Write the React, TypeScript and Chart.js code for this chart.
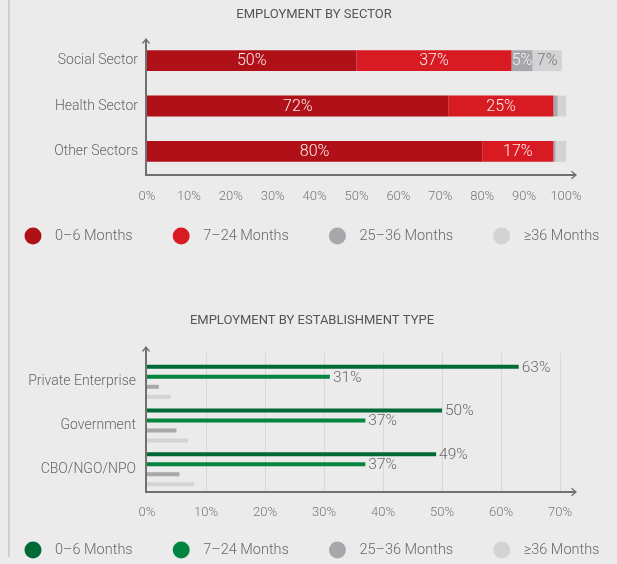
import React, { useEffect, useRef } from 'react';
import { Chart, registerables } from 'chart.js';

Chart.register(...registerables);

const FONT = "Roboto, 'Liberation Sans', sans-serif";

// ---------- data ----------
const seriesNames = ['0–6 Months', '7–24 Months', '25–36 Months', '≥36 Months'];

const sectorCategories = ['Social Sector', 'Health Sector', 'Other Sectors'];
const sector0to6 = [50, 72, 80];
const sector7to24 = [37, 25, 17];
const sector25to36 = [5, 1, 0.5];
const sectorOver36 = [7, 2, 2.5];
const sectorLabels0to6 = ['50%', '72%', '80%'];
const sectorLabels7to24 = ['37%', '25%', '17%'];
const sectorLabels25to36 = ['5%', '', ''];
const sectorLabelsOver36 = ['7%', '', ''];
const sectorTicks = ['0%', '10%', '20%', '30%', '40%', '50%', '60%', '70%', '80%', '90%', '100%'];

const estCategories = ['Private Enterprise', 'Government', 'CBO/NGO/NPO'];
const est0to6 = [63, 50, 49];
const est7to24 = [31, 37, 37];
const est25to36 = [2, 5, 5.5];
const estOver36 = [4, 7, 8];
const estLabels0to6 = ['63%', '50%', '49%'];
const estLabels7to24 = ['31%', '37%', '37%'];
const estTicks = ['0%', '10%', '20%', '30%', '40%', '50%', '60%', '70%'];

const redColors = ['#b01119', '#d81b23', '#a7a8ab', '#d2d3d5'];
const greenColors = ['#006a37', '#00853f', '#a7a8ab', '#d2d3d5'];

// ---------- plugins ----------
type DecorCfg = {
  title: string;
  titleX: number;
  titleY: number;
  arrowTop: number;
  legendY: number;
  grid: boolean;
  gridTop: number;
};

function decorPlugin(cfg: DecorCfg) {
  return {
    id: 'decor',
    beforeDatasetsDraw(chart: any) {
      if (!cfg.grid) return;
      const { ctx, chartArea, scales } = chart;
      const x = scales.x;
      ctx.save();
      ctx.strokeStyle = '#d8d8d8';
      ctx.lineWidth = 1;
      x.ticks.forEach((t: any) => {
        if (t.value === 0) return;
        const px = Math.round(x.getPixelForValue(t.value)) + 0.5;
        ctx.beginPath();
        ctx.moveTo(px, cfg.gridTop);
        ctx.lineTo(px, chartArea.bottom);
        ctx.stroke();
      });
      ctx.restore();
    },
    afterDraw(chart: any) {
      const { ctx, chartArea } = chart;
      ctx.save();
      // title
      ctx.fillStyle = '#555555';
      ctx.font = `400 13px ${FONT}`;
      ctx.textAlign = 'center';
      ctx.textBaseline = 'middle';
      ctx.fillText(cfg.title, cfg.titleX, cfg.titleY);

      // axes with arrows
      const ax = chartArea.left - 1;
      const ay = chartArea.bottom + 1;
      const xEnd = 576;
      ctx.strokeStyle = '#707070';
      ctx.lineWidth = 2;
      ctx.beginPath();
      ctx.moveTo(ax, cfg.arrowTop);
      ctx.lineTo(ax, ay);
      ctx.lineTo(xEnd, ay);
      ctx.stroke();
      ctx.lineWidth = 1.3;
      ctx.beginPath();
      ctx.moveTo(ax - 3.5, cfg.arrowTop + 4.5);
      ctx.lineTo(ax, cfg.arrowTop);
      ctx.lineTo(ax + 3.5, cfg.arrowTop + 4.5);
      ctx.moveTo(xEnd - 4.5, ay - 3.8);
      ctx.lineTo(xEnd, ay);
      ctx.lineTo(xEnd - 4.5, ay + 3.8);
      ctx.stroke();

      // legend
      ctx.font = `300 14.5px ${FONT}`;
      ctx.textAlign = 'left';
      let cx = 33;
      chart.data.datasets.forEach((ds: any) => {
        ctx.fillStyle = ds.backgroundColor;
        ctx.beginPath();
        ctx.arc(cx, cfg.legendY, 8.5, 0, Math.PI * 2);
        ctx.fill();
        ctx.fillStyle = '#686868';
        const tx = cx + 22;
        ctx.fillText(ds.label, tx, cfg.legendY + 0.5);
        cx = tx + ctx.measureText(ds.label).width + 48.5;
      });
      ctx.restore();
    },
  };
}

function insideLabelsPlugin(labels: string[][], colors: string[]) {
  return {
    id: 'insideLabels',
    afterDatasetsDraw(chart: any) {
      const { ctx } = chart;
      ctx.save();
      ctx.font = `300 16px ${FONT}`;
      ctx.textAlign = 'center';
      ctx.textBaseline = 'middle';
      chart.data.datasets.forEach((_ds: any, i: number) => {
        const meta = chart.getDatasetMeta(i);
        meta.data.forEach((el: any, j: number) => {
          const txt = labels[i][j];
          if (!txt) return;
          const p = el.getProps(['x', 'y', 'base'], true);
          ctx.fillStyle = colors[i];
          ctx.fillText(txt, (p.x + p.base) / 2, p.y + 0.5);
        });
      });
      ctx.restore();
    },
  };
}

function endLabelsPlugin(labels: string[][]) {
  return {
    id: 'endLabels',
    afterDatasetsDraw(chart: any) {
      const { ctx } = chart;
      ctx.save();
      ctx.font = `300 15.5px ${FONT}`;
      ctx.textAlign = 'left';
      ctx.textBaseline = 'middle';
      ctx.fillStyle = '#686868';
      chart.data.datasets.forEach((_ds: any, i: number) => {
        if (!labels[i]) return;
        const meta = chart.getDatasetMeta(i);
        meta.data.forEach((el: any, j: number) => {
          const txt = labels[i][j];
          if (!txt) return;
          const p = el.getProps(['x', 'y'], true);
          ctx.fillText(txt, p.x + 3, p.y + 1);
        });
      });
      ctx.restore();
    },
  };
}

const tickFont = { family: FONT, size: 13, weight: 300 as any };
const catFont = { family: FONT, size: 14, weight: 300 as any };

function SectorChart() {
  const ref = useRef<HTMLCanvasElement>(null);
  useEffect(() => {
    if (!ref.current) return;
    const series = [sector0to6, sector7to24, sector25to36, sectorOver36];
    const chart = new Chart(ref.current, {
      type: 'bar',
      data: {
        labels: sectorCategories,
        datasets: series.map((d, i) => ({
          label: seriesNames[i],
          data: d,
          backgroundColor: redColors[i],
          borderWidth: 0,
          barPercentage: 0.46,
          categoryPercentage: 1,
        })),
      },
      options: {
        indexAxis: 'y',
        responsive: false,
        animation: false,
        events: [],
        layout: { padding: { top: 38, left: 0, right: 51, bottom: 48 } },
        scales: {
          x: {
            stacked: true,
            min: 0,
            max: 100,
            ticks: {
              stepSize: 10,
              font: tickFont,
              color: '#777777',
              padding: 15,
              callback: (_v: any, i: number) => sectorTicks[i],
            },
            grid: { display: false, drawTicks: false },
            border: { display: false },
            afterFit: (s: any) => { s.height = 40; },
          },
          y: {
            stacked: true,
            ticks: { font: catFont, color: '#666666', padding: 9 },
            grid: { display: false, drawTicks: false },
            border: { display: false },
            afterFit: (s: any) => { s.width = 147; },
          },
        },
        plugins: {
          legend: { display: false },
          title: { display: false },
          tooltip: { enabled: false },
        },
      } as any,
      plugins: [
        decorPlugin({
          title: 'EMPLOYMENT BY SECTOR',
          titleX: 314,
          titleY: 15,
          arrowTop: 39,
          legendY: 236,
          grid: false,
          gridTop: 0,
        }),
        insideLabelsPlugin(
          [sectorLabels0to6, sectorLabels7to24, sectorLabels25to36, sectorLabelsOver36],
          ['#fbeeee', '#fbeeee', '#f3f3f3', '#777777']
        ),
      ],
    });
    return () => chart.destroy();
  }, []);
  return (
    <canvas
      ref={ref}
      width={617}
      height={262}
      style={{ position: 'absolute', left: 0, top: 0, width: 617, height: 262 }}
    />
  );
}

function EstablishmentChart() {
  const ref = useRef<HTMLCanvasElement>(null);
  useEffect(() => {
    if (!ref.current) return;
    const series = [est0to6, est7to24, est25to36, estOver36];
    const chart = new Chart(ref.current, {
      type: 'bar',
      data: {
        labels: estCategories,
        datasets: series.map((d, i) => ({
          label: seriesNames[i],
          data: d,
          backgroundColor: greenColors[i],
          borderWidth: 0,
          barPercentage: 0.4,
          categoryPercentage: 0.915,
        })),
      },
      options: {
        indexAxis: 'y',
        responsive: false,
        animation: false,
        events: [],
        layout: { padding: { top: 70, left: 0, right: 57, bottom: 33 } },
        scales: {
          x: {
            min: 0,
            max: 70,
            ticks: {
              stepSize: 10,
              font: tickFont,
              color: '#777777',
              padding: 14,
              callback: (_v: any, i: number) => estTicks[i],
            },
            grid: { display: false, drawTicks: false },
            border: { display: false },
            afterFit: (s: any) => { s.height = 40; },
          },
          y: {
            ticks: { font: catFont, color: '#666666', padding: 11 },
            grid: { display: false, drawTicks: false },
            border: { display: false },
            afterFit: (s: any) => { s.width = 147; },
          },
        },
        plugins: {
          legend: { display: false },
          title: { display: false },
          tooltip: { enabled: false },
        },
      } as any,
      plugins: [
        decorPlugin({
          title: 'EMPLOYMENT BY ESTABLISHMENT TYPE',
          titleX: 312,
          titleY: 31,
          arrowTop: 57,
          legendY: 260,
          grid: true,
          gridTop: 63,
        }),
        endLabelsPlugin([estLabels0to6, estLabels7to24]),
      ],
    });
    return () => chart.destroy();
  }, []);
  return (
    <canvas
      ref={ref}
      width={617}
      height={274}
      style={{ position: 'absolute', left: 0, top: 290, width: 617, height: 274 }}
    />
  );
}

export default function App() {
  return (
    <div
      style={{
        position: 'fixed',
        left: 0,
        top: 0,
        width: 617,
        height: 564,
        background: '#ebebeb',
        overflow: 'hidden',
      }}
    >
      <div
        style={{
          position: 'absolute',
          left: 8,
          top: 0,
          width: 1.5,
          height: 557,
          background: '#cfcfcf',
        }}
      />
      <SectorChart />
      <EstablishmentChart />
    </div>
  );
}
